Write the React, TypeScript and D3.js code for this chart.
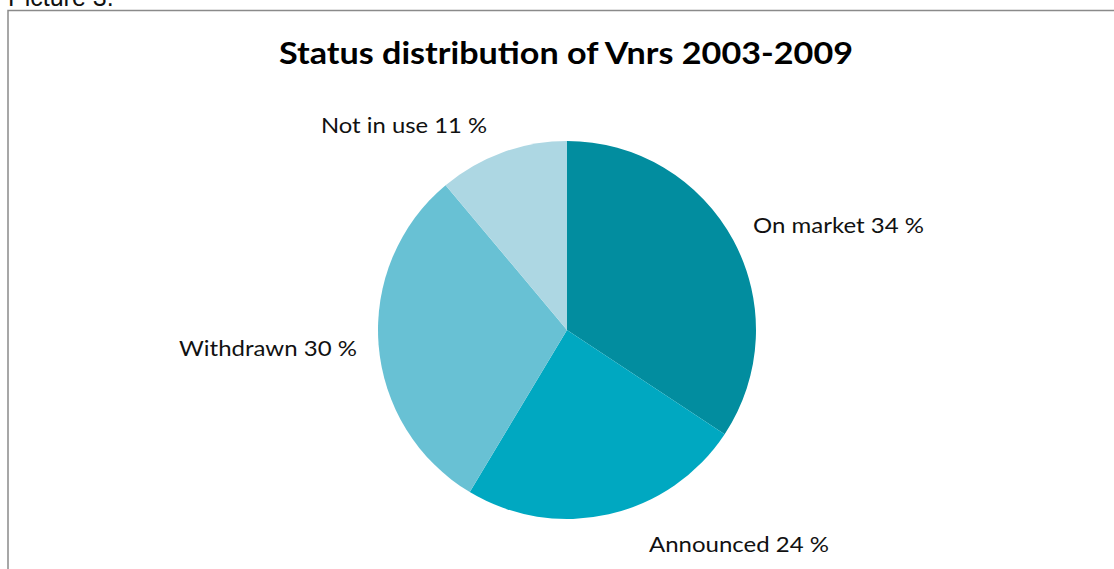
import React from "react";
import * as d3 from "d3";

const categories = ["On market", "Announced", "Withdrawn", "Not in use"];
const values = [34.3, 24.3, 30.3, 11.1];
const labels = ["On market 34 %", "Announced 24 %", "Withdrawn 30 %", "Not in use 11 %"];
const colors = ["#028D9F", "#00A8C1", "#68C1D4", "#ADD7E3"];

const W = 1114;
const H = 569;
const cx = 567;
const cy = 330;
const R = 189;

// label anchor positions (x start, baseline) and widths
const labelPos: [number, number, number][] = [
  [753, 233, 171],
  [649, 552, 180],
  [179, 356, 178],
  [321, 133, 166],
];

export default function App() {
  const pie = d3
    .pie<number>()
    .sort(null)
    .value((d) => d)
    .startAngle(0)
    .endAngle(2 * Math.PI);
  const arcs = pie(values);
  const arc = d3.arc<d3.PieArcDatum<number>>().innerRadius(0).outerRadius(R);

  return (
    <svg
      width={W}
      height={H}
      style={{ position: "absolute", left: 0, top: 0, background: "#fff" }}
    >
      <text
        x={8}
        y={6}
        fontFamily="Liberation Sans, Arial, sans-serif"
        fontSize={25}
        fill="#111"
      >
        Picture 3.
      </text>
      <rect
        x={8}
        y={10.5}
        width={1200}
        height={700}
        fill="#fff"
        stroke="#8a8a8a"
        strokeWidth={1.5}
      />
      <text
        x={279}
        y={64}
        fontFamily="Lato, sans-serif"
        fontWeight="bold"
        fontSize={30}
        fill="#000"
        textLength={574}
        lengthAdjust="spacingAndGlyphs"
      >
        Status distribution of Vnrs 2003-2009
      </text>
      <g transform={`translate(${cx},${cy})`}>
        {arcs.map((a, i) => (
          <path key={categories[i]} d={arc(a) || ""} fill={colors[i]} />
        ))}
      </g>
      {labels.map((l, i) => (
        <text
          key={l}
          x={labelPos[i][0]}
          y={labelPos[i][1]}
          fontFamily="Lato, sans-serif"
          fontSize={21}
          fill="#111"
          textLength={labelPos[i][2]}
          lengthAdjust="spacingAndGlyphs"
        >
          {l}
        </text>
      ))}
    </svg>
  );
}
